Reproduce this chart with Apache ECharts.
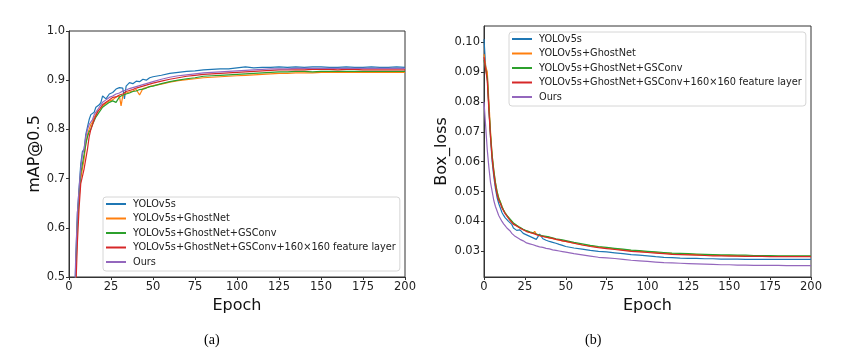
<!DOCTYPE html>
<html>
<head>
<meta charset="utf-8">
<script src="https://cdn.jsdelivr.net/npm/echarts@6/dist/echarts.min.js"></script>
<style>
  html, body { margin: 0; padding: 0; background: #fff; }
  #main { width: 855px; height: 359px; }
</style>
</head>
<body>
<div id="main"></div>
<script>
// epochs sampled from the curves
const epochs = [0,1,2,3,4,5,6,7,8,9,10,11,12,13,14,15,16,17,18,19,20,22,24,26,28,30,31,32,33,34,36,38,40,42,44,46,48,50,
  55,60,65,70,75,80,85,90,95,100,105,110,115,120,125,130,135,140,145,150,155,160,165,170,175,180,185,190,195,200];

const names = ['YOLOv5s', 'YOLOv5s+GhostNet', 'YOLOv5s+GhostNet+GSConv',
  'YOLOv5s+GhostNet+GSConv+160×160 feature layer', 'Ours'];
const colors = ['#1f77b4', '#ff7f0e', '#2ca02c', '#d62728', '#9467bd'];

// (a) mAP@0.5
const mapYolo = [0.02,0.10,0.25,0.40,0.53,0.63,0.68,0.73,0.755,0.76,0.79,0.805,0.82,0.83,0.83,0.835,0.845,0.848,0.85,0.855,0.868,0.862,0.872,0.875,0.882,0.885,0.888,0.884,0.862,0.888,0.895,0.893,0.898,0.897,0.902,0.900,0.905,0.907,
  0.910,0.914,0.916,0.918,0.919,0.921,0.922,0.923,0.923,0.925,0.927,0.925,0.926,0.926,0.927,0.926,0.927,0.926,0.927,0.927,0.926,0.926,0.927,0.926,0.926,0.927,0.926,0.926,0.927,0.926];
const mapGhost = [0.01,0.08,0.22,0.37,0.50,0.60,0.66,0.70,0.72,0.74,0.77,0.79,0.80,0.81,0.815,0.825,0.83,0.838,0.84,0.842,0.848,0.853,0.858,0.86,0.866,0.868,0.848,0.868,0.872,0.874,0.876,0.878,0.881,0.870,0.883,0.885,0.887,0.889,
  0.892,0.896,0.899,0.901,0.903,0.905,0.906,0.907,0.908,0.909,0.910,0.911,0.912,0.913,0.914,0.914,0.915,0.915,0.915,0.916,0.916,0.916,0.916,0.916,0.916,0.916,0.916,0.916,0.916,0.916];
const mapGsconv = [0.01,0.09,0.23,0.38,0.51,0.61,0.67,0.71,0.73,0.75,0.77,0.785,0.795,0.80,0.81,0.812,0.825,0.83,0.835,0.84,0.845,0.85,0.855,0.858,0.855,0.866,0.862,0.87,0.868,0.872,0.874,0.877,0.878,0.881,0.882,0.884,0.887,0.888,
  0.893,0.897,0.900,0.903,0.905,0.908,0.909,0.910,0.911,0.912,0.913,0.914,0.915,0.916,0.917,0.917,0.918,0.918,0.917,0.918,0.918,0.918,0.918,0.918,0.918,0.918,0.918,0.918,0.918,0.918];
const mapLayer = [0.01,0.07,0.20,0.35,0.47,0.57,0.64,0.69,0.69,0.72,0.74,0.76,0.785,0.80,0.81,0.82,0.828,0.835,0.84,0.845,0.85,0.855,0.86,0.865,0.866,0.87,0.868,0.872,0.875,0.877,0.879,0.881,0.884,0.886,0.888,0.890,0.892,0.894,
  0.898,0.902,0.905,0.908,0.910,0.912,0.913,0.914,0.915,0.916,0.917,0.918,0.919,0.920,0.921,0.921,0.921,0.921,0.922,0.922,0.922,0.921,0.922,0.922,0.921,0.921,0.921,0.921,0.921,0.921];
const mapOurs = [0.02,0.10,0.26,0.41,0.54,0.63,0.68,0.72,0.75,0.76,0.785,0.80,0.81,0.815,0.82,0.83,0.835,0.84,0.845,0.85,0.855,0.86,0.865,0.868,0.872,0.874,0.876,0.878,0.879,0.88,0.883,0.885,0.887,0.889,0.891,0.893,0.895,0.897,
  0.902,0.906,0.909,0.911,0.913,0.915,0.916,0.917,0.918,0.919,0.920,0.921,0.922,0.923,0.923,0.923,0.924,0.924,0.924,0.924,0.924,0.924,0.924,0.924,0.924,0.924,0.924,0.924,0.924,0.924];

// (b) Box_loss
const boxYolo = [0.101,0.092,0.089,0.078,0.068,0.060,0.055,0.051,0.048,0.046,0.0445,0.043,0.042,0.0412,0.0408,0.040,0.0395,0.039,0.0378,0.0375,0.037,0.0372,0.036,0.0355,0.035,0.0345,0.0348,0.034,0.0338,0.0358,0.0342,0.0337,0.0333,0.033,0.0327,0.0323,0.032,0.0316,
  0.0311,0.0307,0.0303,0.0300,0.0298,0.0295,0.0292,0.0289,0.0287,0.0285,0.0282,0.0280,0.0279,0.0277,0.0276,0.0276,0.0275,0.0275,0.0274,0.0274,0.0274,0.0273,0.0273,0.0273,0.0273,0.0273,0.0273,0.0273,0.0273,0.0273];
const boxGhost = [0.096,0.092,0.090,0.080,0.070,0.062,0.057,0.053,0.050,0.048,0.0465,0.045,0.0438,0.0428,0.042,0.0413,0.0405,0.040,0.0393,0.039,0.0385,0.0378,0.0372,0.0368,0.0363,0.036,0.0367,0.0357,0.0355,0.0353,0.035,0.0347,0.0345,0.0342,0.034,0.0337,0.0335,0.0333,
  0.0327,0.0322,0.0318,0.0314,0.0311,0.0308,0.0305,0.0302,0.030,0.0298,0.0296,0.0294,0.0292,0.0291,0.029,0.0289,0.0288,0.0287,0.0286,0.0286,0.0285,0.0284,0.0284,0.0284,0.0283,0.0283,0.0283,0.0283,0.0283,0.0283];
const boxGsconv = [0.094,0.091,0.088,0.078,0.069,0.062,0.057,0.053,0.050,0.0478,0.0465,0.045,0.0437,0.0428,0.042,0.0418,0.0408,0.0402,0.0395,0.039,0.0387,0.038,0.0374,0.0369,0.0365,0.0362,0.036,0.0358,0.0356,0.0354,0.0352,0.035,0.0348,0.0345,0.0342,0.034,0.0338,0.0336,
  0.033,0.0325,0.032,0.0316,0.0313,0.031,0.0307,0.0304,0.0302,0.030,0.0298,0.0296,0.0294,0.0293,0.0292,0.0291,0.029,0.0289,0.0288,0.0288,0.0287,0.0287,0.0286,0.0286,0.0286,0.0285,0.0285,0.0285,0.0285,0.0285];
const boxLayer = [0.095,0.091,0.087,0.077,0.068,0.061,0.056,0.052,0.049,0.047,0.046,0.0445,0.0435,0.0425,0.042,0.041,0.0403,0.0398,0.039,0.0388,0.0385,0.0378,0.0372,0.0366,0.0363,0.036,0.0358,0.0356,0.0354,0.0352,0.035,0.0347,0.0345,0.0343,0.034,0.0338,0.0335,0.0333,
  0.0327,0.0321,0.0316,0.0312,0.0309,0.0306,0.0303,0.030,0.0298,0.0296,0.0294,0.0292,0.029,0.0289,0.0288,0.0287,0.0286,0.0285,0.0285,0.0284,0.0284,0.0283,0.0283,0.0283,0.0282,0.0282,0.0282,0.0282,0.0282,0.0282];
const boxOurs = [0.080,0.072,0.064,0.058,0.053,0.050,0.047,0.045,0.0435,0.042,0.041,0.040,0.0392,0.0385,0.0378,0.0372,0.0368,0.036,0.0356,0.035,0.0345,0.034,0.0335,0.0328,0.0325,0.0322,0.032,0.0318,0.0316,0.0315,0.0313,0.031,0.0308,0.0305,0.0303,0.0301,0.0299,0.0297,
  0.0292,0.0288,0.0284,0.028,0.0278,0.0276,0.0273,0.027,0.0268,0.0266,0.0264,0.0262,0.0261,0.026,0.0259,0.0258,0.0257,0.0256,0.0255,0.0255,0.0254,0.0254,0.0253,0.0253,0.0253,0.0253,0.0252,0.0252,0.0252,0.0252];

const epochTicks = 25;
const mapTicks = 0.1;
const boxTicks = [0.03,0.04,0.05,0.06,0.07,0.08,0.09,0.10];

const mapData = [mapYolo, mapGhost, mapGsconv, mapLayer, mapOurs];
const boxData = [boxYolo, boxGhost, boxGsconv, boxLayer, boxOurs];

const font = 'DejaVu Sans';
const tickLabel = { color: '#222', fontSize: 11.5, fontFamily: font };
const axisName = { color: '#111', fontSize: 16, fontFamily: font };
const frame = { show: true, lineStyle: { color: '#333', width: 1 } };
const ticks = { show: true, inside: false, length: 3, lineStyle: { color: '#333' } };

function pairs(vals) {
  return epochs.map((e, i) => [e, vals[i]]);
}

function xAx(idx) {
  return {
    type: 'value', gridIndex: idx, min: 0, max: 200, interval: epochTicks,
    name: 'Epoch', nameLocation: 'middle', nameGap: 20, nameTextStyle: axisName,
    axisLine: frame, axisTick: ticks, axisLabel: Object.assign({ margin: 4 }, tickLabel),
    splitLine: { show: false }
  };
}

function legend(idx, left, top) {
  return {
    data: names, orient: 'vertical', left: left, top: top,
    icon: 'rect', itemWidth: 20, itemHeight: 2, itemGap: 2.5,
    padding: [1, 4, 3, 3],
    borderColor: '#d6d6d6', borderWidth: 1, borderRadius: 3,
    backgroundColor: 'rgba(255,255,255,0.8)',
    textStyle: { fontSize: 9.75, lineHeight: 12, fontFamily: font, color: '#222', padding: [0, 0, 0, 2] }
  };
}

const series = [];
names.forEach((n, i) => {
  series.push({ name: n, type: 'line', xAxisIndex: 0, yAxisIndex: 0, data: pairs(mapData[i]),
    showSymbol: false, clip: true, lineStyle: { color: colors[i], width: 1.2 }, itemStyle: { color: colors[i] } });
});
names.forEach((n, i) => {
  series.push({ name: n, type: 'line', xAxisIndex: 1, yAxisIndex: 1, data: pairs(boxData[i]),
    showSymbol: false, clip: true, lineStyle: { color: colors[i], width: 1.2 }, itemStyle: { color: colors[i] } });
});

const chart = echarts.init(document.getElementById('main'), null, { renderer: 'canvas' });
chart.setOption({
  animation: false,
  backgroundColor: '#fff',
  grid: [
    { left: 69, top: 31, width: 336, height: 246, show: true, borderColor: '#333', borderWidth: 1 },
    { left: 484, top: 26, width: 327, height: 251, show: true, borderColor: '#333', borderWidth: 1 }
  ],
  xAxis: [xAx(0), xAx(1)],
  yAxis: [
    {
      type: 'value', gridIndex: 0, min: 0.5, max: 1.0, interval: mapTicks,
      name: 'mAP@0.5', nameLocation: 'middle', nameGap: 22, nameTextStyle: axisName,
      axisLine: frame, axisTick: ticks,
      axisLabel: Object.assign({ margin: 4, formatter: v => v.toFixed(1) }, tickLabel),
      splitLine: { show: false }
    },
    {
      type: 'value', gridIndex: 1, min: 0.0214, max: 0.1054,
      name: 'Box_loss', nameLocation: 'middle', nameGap: 34, nameTextStyle: axisName,
      axisLine: frame,
      axisTick: Object.assign({ customValues: boxTicks }, ticks),
      axisLabel: Object.assign({ margin: 4, customValues: boxTicks, formatter: v => v.toFixed(2) }, tickLabel),
      splitLine: { show: false }
    }
  ],
  legend: [legend(0, 103, 197), legend(1, 509, 32)],
  series: series,
  graphic: [
    { type: 'text', left: 204, top: 333, style: { text: '(a)', fontSize: 14, fontFamily: 'Liberation Serif', fill: '#000' } },
    { type: 'text', left: 585, top: 333, style: { text: '(b)', fontSize: 14, fontFamily: 'Liberation Serif', fill: '#000' } }
  ]
});
</script>
</body>
</html>
